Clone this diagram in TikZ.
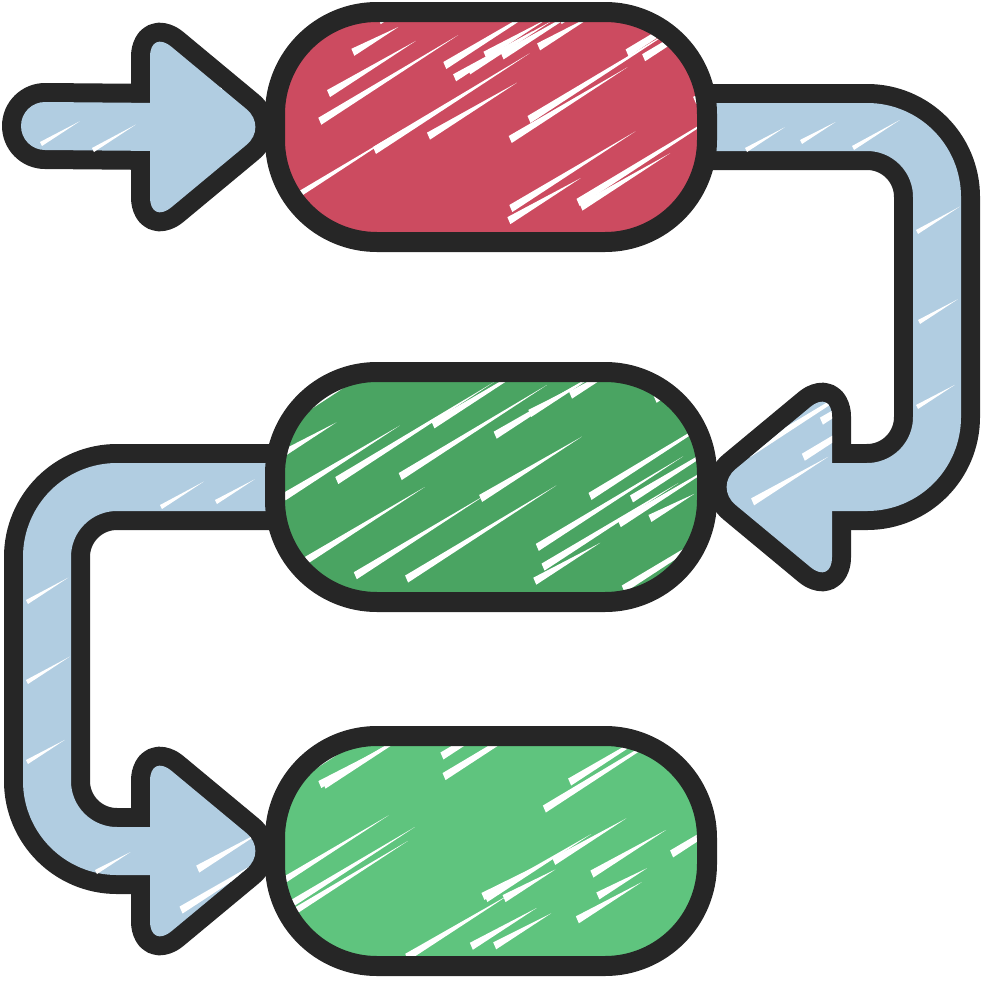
\documentclass[tikz,border=0pt]{standalone}
\usetikzlibrary{backgrounds}
\definecolor{ink}{HTML}{262626}
\definecolor{flowblue}{HTML}{B1CDE1}
\definecolor{candyred}{HTML}{CC4B60}
\definecolor{darkmint}{HTML}{4AA462}
\definecolor{lightmint}{HTML}{5FC47E}
\newcommand\headpath[2]{(#1) ++({-7*(#2)},0) -- ++({-118*(#2)},-98) -- ++(0,196) -- cycle}
\tikzset{
  streaks/.style n args={3}{path picture={
    \foreach \k in {1,...,#1}{
      \pgfmathsetmacro\len{50+140*rnd}
      \fill[white, sharp corners] ([shift={({#2*rand},{#3*rand})}]path picture bounding box.center)
        -- ++(3,7) -- ++({0.84*\len},{-0.55*\len}) -- cycle;
    }}},
  pill/.style={rectangle, rounded corners=102pt, minimum width=432pt, minimum height=230pt,
    inner sep=0pt, outer sep=0pt, draw=ink, line width=20pt, streaks={30}{250}{135}},
  pipeline/.style={draw=ink, line width=86pt, line cap=round, rounded corners=70pt},
  pipefill/.style={draw=flowblue, line width=48pt, line cap=round, rounded corners=70pt},
  headline/.style={draw=ink, line width=38pt, line join=round, rounded corners=28pt},
  headfill/.style={fill=flowblue, rounded corners=28pt, streaks={4}{55}{70}},
}
\begin{document}
\begin{tikzpicture}[x=1pt, y=-1pt]
\pgfmathsetseed{42}
\useasboundingbox (0,0) rectangle (985,980);
\node[pill, fill=candyred] (top) at (491,127) {};
\node[pill, fill=darkmint] (middle) at (491,487) {};
\node[pill, fill=lightmint] (bottom) at (491,851) {};
\coordinate (src) at (45,126);
\begin{pgfonlayer}{background}
  % input arrow
  \draw[pipeline] (src) -- ([xshift=-115pt]top.west);
  \draw[headline] \headpath{top.west}{1};
  \draw[pipefill] (src) -- ([xshift=-115pt]top.west);
  \fill[headfill] \headpath{top.west}{1};
  % top to middle
  \draw[pipeline] (top.east) -| ([xshift=230pt]middle.east) -- ([xshift=115pt]middle.east);
  \draw[headline] \headpath{middle.east}{-1};
  \draw[pipefill] (top.east) -| ([xshift=230pt]middle.east) -- ([xshift=115pt]middle.east);
  \fill[headfill] \headpath{middle.east}{-1};
  % middle to bottom
  \draw[pipeline] (middle.west) -| ([xshift=-228pt]bottom.west) -- ([xshift=-115pt]bottom.west);
  \draw[headline] \headpath{bottom.west}{1};
  \draw[pipefill] (middle.west) -| ([xshift=-228pt]bottom.west) -- ([xshift=-115pt]bottom.west);
  \fill[headfill] \headpath{bottom.west}{1};
  % scribble gaps in the pipes
  \foreach \x/\y/\l in {40/142/45, 92/148/50, 745/148/45, 800/140/40, 852/146/55,
      916/230/50, 918/320/45, 916/405/44, 160/505/50, 215/500/45,
      26/600/48, 26/680/50, 26/760/44, 95/870/40}
    \fill[white] (\x,\y) -- ++(2,4) -- ++({0.84*\l},{-0.55*\l}) -- cycle;
\end{pgfonlayer}
\end{tikzpicture}
\end{document}
